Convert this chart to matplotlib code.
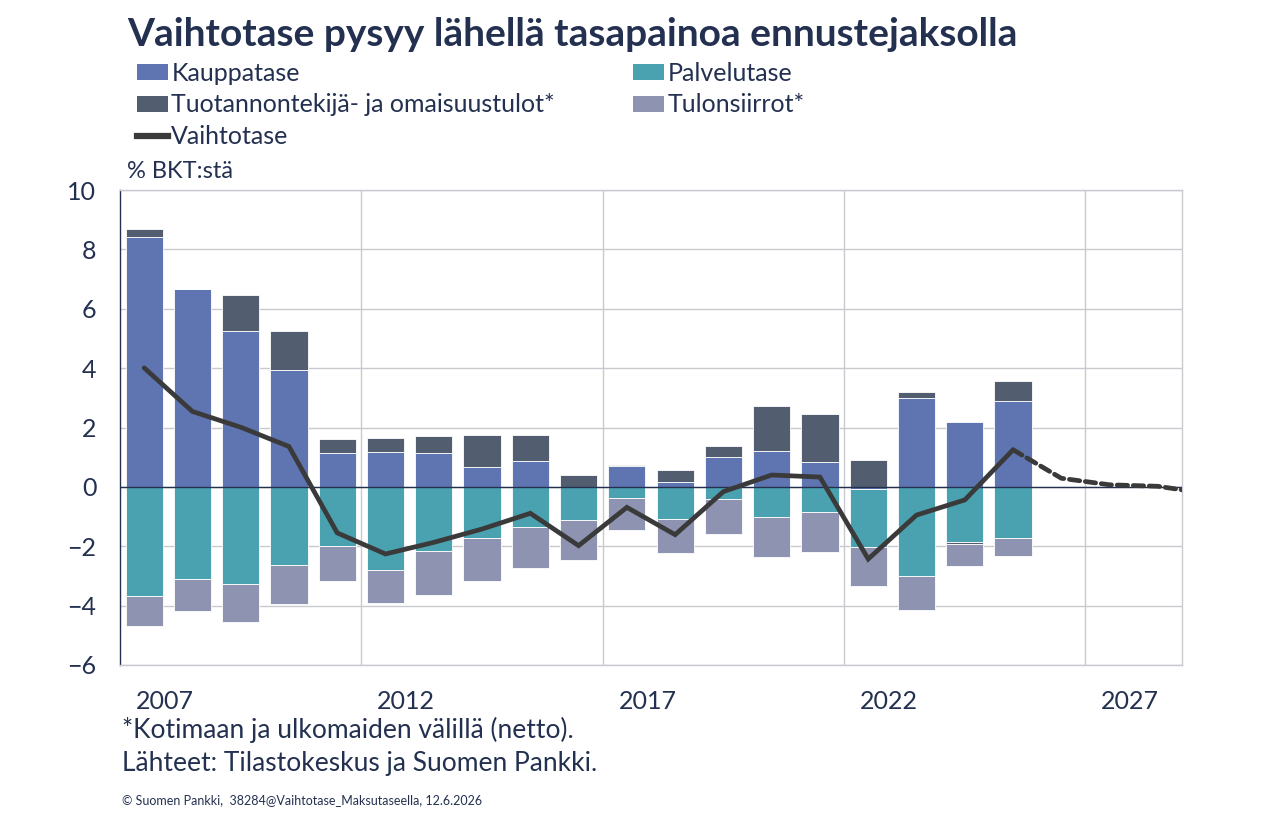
import matplotlib.pyplot as plt
import numpy as np
from matplotlib.patches import Patch
from matplotlib.lines import Line2D

plt.rcParams['font.family'] = ['Lato', 'DejaVu Sans']

years = np.arange(2007, 2026)
kauppatase = [8.43, 6.68, 5.26, 3.95, 1.15, 1.18, 1.15, 0.67, 0.88, 0.0,
              0.70, 0.18, 1.02, 1.22, 0.85, -0.07, 2.98, 2.17, 2.90]
palvelutase = [-3.68, -3.09, -3.27, -2.63, -1.99, -2.79, -2.16, -1.71, -1.35, -1.10,
               -0.36, -1.08, -0.40, -1.00, -0.83, -1.94, -2.99, -1.86, -1.71]
tuotanto = [0.25, 0.0, 1.22, 1.31, 0.45, 0.45, 0.55, 1.09, 0.88, 0.41,
            0.05, 0.40, 0.37, 1.52, 1.62, 0.89, 0.20, -0.05, 0.65]
tulonsiirrot = [-1.00, -1.08, -1.27, -1.31, -1.17, -1.11, -1.47, -1.45, -1.37, -1.35,
                -1.08, -1.14, -1.18, -1.35, -1.35, -1.32, -1.15, -0.74, -0.61]

line_years = np.arange(2007, 2030)
vaihtotase = [4.01, 2.54, 2.01, 1.36, -1.55, -2.26, -1.87, -1.42, -0.89, -1.98,
              -0.69, -1.61, -0.16, 0.40, 0.33, -2.43, -0.95, -0.44, 1.25,
              0.29, 0.07, 0.02, -0.22]
last_actual = 2025

tick_years = [2007, 2012, 2017, 2022, 2027]

series = [
    ('Kauppatase', kauppatase, '#5f75b1'),
    ('Palvelutase', palvelutase, '#4aa1b0'),
    ('Tuotannontekijä- ja omaisuustulot*', tuotanto, '#525e6f'),
    ('Tulonsiirrot*', tulonsiirrot, '#8d93b1'),
]

navy = '#233050'
grid_c = '#c9c9d0'

fig = plt.figure(figsize=(12.61, 8.24), dpi=100)
ax = fig.add_axes([120/1261, 1-665/824, 1062/1261, 475/824])

pos = np.zeros(len(years))
neg = np.zeros(len(years))
for name, vals, col in series:
    v = np.array(vals)
    bottom = np.where(v >= 0, pos, neg)
    ax.bar(years, v, bottom=bottom, width=0.77, color=col,
           edgecolor='white', linewidth=0.6, zorder=2)
    pos = pos + np.where(v >= 0, v, 0)
    neg = neg + np.where(v < 0, v, 0)

lv = np.array(vaihtotase)
act = line_years <= last_actual
fc = line_years >= last_actual
ax.plot(line_years[act], lv[act], color='#3a3a3a', lw=3.4, zorder=4,
        solid_capstyle='round', solid_joinstyle='miter')
ax.plot(line_years[fc], lv[fc], color='#3a3a3a', lw=3.4, zorder=4,
        linestyle=(0, (2.2, 1.2)), dash_capstyle='round')

ax.axhline(0, color=navy, lw=1.0, zorder=3)

ax.set_xlim(2006.5, 2028.5)
ax.set_ylim(-6, 10)
ax.set_yticks(np.arange(-6, 11, 2))
ax.set_yticklabels([str(t).replace('-', '\u2212') for t in range(-6, 11, 2)])
ax.set_xticks([y + 0.43 for y in tick_years])
ax.set_xticklabels([str(y) for y in tick_years])
ax.set_xticks([2011.5, 2016.5, 2021.5, 2026.5], minor=True)
ax.tick_params(axis='both', which='both', length=0, labelsize=18, colors=navy)
ax.tick_params(axis='x', pad=18)
ax.tick_params(axis='y', pad=17)
ax.grid(axis='y', which='major', color=grid_c, lw=1.0, zorder=0)
ax.grid(axis='x', which='minor', color=grid_c, lw=1.0, zorder=0)
for s in ['top', 'right', 'bottom']:
    ax.spines[s].set_color(grid_c)
    ax.spines[s].set_linewidth(1.0)
ax.spines['left'].set_color(navy)
ax.spines['left'].set_linewidth(1.0)

fig.text(127/1261, 1-34/824, 'Vaihtotase pysyy lähellä tasapainoa ennustejaksolla',
         fontsize=28, fontweight='bold', color=navy, va='center', ha='left')

h = {name: Patch(facecolor=col, edgecolor='none') for name, vals, col in series}
vline = Line2D([], [], color='#3a3a3a', lw=4.5)
leg_kw = dict(frameon=False, loc='upper left', fontsize=18, handlelength=1.25,
              handleheight=0.6, handletextpad=0.12, labelspacing=0.34,
              borderpad=0, borderaxespad=0, labelcolor=navy)
leg1 = fig.legend([h['Kauppatase'], h['Tuotannontekijä- ja omaisuustulot*'], vline],
                  ['Kauppatase', 'Tuotannontekijä- ja omaisuustulot*', 'Vaihtotase'],
                  bbox_to_anchor=(137/1261, 1-62/824), **leg_kw)
leg2 = fig.legend([h['Palvelutase'], h['Tulonsiirrot*']],
                  ['Palvelutase', 'Tulonsiirrot*'],
                  bbox_to_anchor=(633/1261, 1-62/824), **leg_kw)

fig.text(127/1261, 1-172/824, '% BKT:stä', fontsize=17, color=navy, va='center')

fig.text(122/1261, 1-730/824, '*Kotimaan ja ulkomaiden välillä (netto).',
         fontsize=19, color=navy, va='center')
fig.text(122/1261, 1-764/824, 'Lähteet: Tilastokeskus ja Suomen Pankki.',
         fontsize=19, color=navy, va='center')
fig.text(122/1261, 1-800/824, '© Suomen Pankki,  38284@Vaihtotase_Maksutaseella, 12.6.2026',
         fontsize=9, color=navy, va='center')

fig.savefig('out.png', dpi=100)
